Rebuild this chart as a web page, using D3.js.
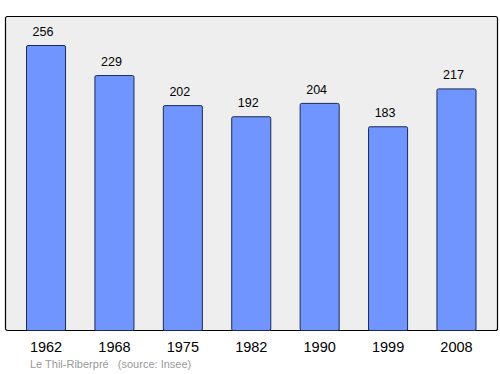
<!DOCTYPE html>
<html><head><meta charset="utf-8">
<script src="https://cdn.jsdelivr.net/npm/d3@7"></script>
<style>body{margin:0;background:#fff}svg{display:block}</style>
</head><body>
<svg id="c" width="500" height="374"></svg>
<script>
const years = ["1962","1968","1975","1982","1990","1999","2008"];
const population = [256,229,202,192,204,183,217];
const footer = "Le Thil-Riberpré   (source: Insee)";

const svg = d3.select("#c");
const frame = {left:5.5, top:16.5, right:497.5, bottom:330.5};
svg.append("rect").attr("x",frame.left).attr("y",frame.top)
  .attr("width",frame.right-frame.left).attr("height",frame.bottom-frame.top)
  .attr("rx",2).attr("fill","#eeeeee").attr("stroke","#000").attr("stroke-width",1.2);

const x = d3.scaleBand().domain(years).range([26,475.5]).paddingInner(0.429).paddingOuter(0);
const y = d3.scaleLinear().domain([0,256]).range([330,45]);

svg.selectAll("rect.bar").data(population).enter().append("rect").attr("class","bar")
  .attr("x",(d,i)=>x(years[i])+0.5).attr("y",d=>y(d)+0.5)
  .attr("width",x.bandwidth()).attr("height",d=>330-y(d))
  .attr("rx",1.5)
  .attr("fill","#7095ff").attr("stroke","#1a2a55").attr("stroke-width",1);

svg.selectAll("text.val").data(population).enter().append("text").attr("class","val")
  .attr("x",(d,i)=>x(years[i])+x.bandwidth()/2-2.5).attr("y",d=>y(d)-9)
  .attr("text-anchor","middle").attr("font-family","Liberation Sans, Arial, sans-serif")
  .attr("font-size",12.5).attr("fill","#000").text(d=>d);

const xAxis = d3.axisBottom(x).tickSize(0).tickPadding(10);
const g = svg.append("g").attr("transform","translate(0.5,332)").call(xAxis);
g.select(".domain").remove();
g.selectAll("text").attr("font-family","Liberation Sans, Arial, sans-serif").attr("font-size",14.5).attr("fill","#000");

svg.append("text").attr("x",30).attr("y",368)
  .attr("font-family","Liberation Sans, Arial, sans-serif").attr("font-size",11)
  .attr("fill","#999").attr("xml:space","preserve").style("white-space","pre").text(footer);
</script>
</body></html>
